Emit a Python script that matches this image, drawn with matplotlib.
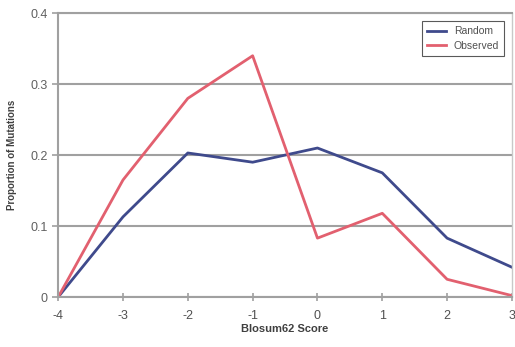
import matplotlib
matplotlib.use('Agg')
import matplotlib.pyplot as plt

# Данные
scores = [-4, -3, -2, -1, 0, 1, 2, 3]
random_vals = [0.0, 0.113, 0.203, 0.190, 0.210, 0.175, 0.083, 0.042]
observed_vals = [0.0, 0.165, 0.280, 0.340, 0.083, 0.118, 0.025, 0.002]
y_ticks = [0, 0.1, 0.2, 0.3, 0.4]
y_labels = ['0', '0.1', '0.2', '0.3', '0.4']

plt.rcParams['font.family'] = ['Liberation Sans', 'DejaVu Sans']
plt.rcParams['axes.unicode_minus'] = False

fig = plt.figure(figsize=(5.15, 3.47), dpi=100)
ax = fig.add_axes([0.113, 0.144, 0.881, 0.818])

ax.plot(scores, random_vals, color='#3f4a8c', lw=2.0, label='Random')
ax.plot(scores, observed_vals, color='#e2606f', lw=2.0, label='Observed')

ax.set_xlim(-4, 3)
ax.set_ylim(0, 0.4)
ax.set_xticks(scores)
ax.set_yticks(y_ticks)
ax.set_yticklabels(y_labels)
ax.grid(axis='y', color='#a0a0a0', lw=1.5)
ax.set_axisbelow(True)

for side in ['left', 'bottom']:
    ax.spines[side].set_color('#a0a0a0')
    ax.spines[side].set_linewidth(1.5)
ax.spines['top'].set_color('#a0a0a0')
ax.spines['top'].set_linewidth(1.5)
ax.spines['right'].set_color('#c8c8c8')
ax.spines['right'].set_linewidth(1.0)

ax.tick_params(axis='x', direction='inout', length=6, color='#a0a0a0', width=1.2,
               labelsize=9, labelcolor='#505050', pad=6)
ax.tick_params(axis='y', direction='out', length=4, color='#a0a0a0', width=1.2,
               labelsize=9, labelcolor='#606060')

ax.set_xlabel('Blosum62 Score', fontsize=8, fontweight='bold', color='#404040', labelpad=2)
ax.set_ylabel('Proportion of Mutations', fontsize=7, fontweight='bold', color='#404040', labelpad=10)

leg = ax.legend(loc='upper right', fontsize=7.5, frameon=True, fancybox=False,
                handlelength=1.8, borderpad=0.5, labelspacing=0.4,
                bbox_to_anchor=(0.995, 0.99))
leg.get_frame().set_edgecolor('#303030')
leg.get_frame().set_linewidth(0.8)
for t in leg.get_texts():
    t.set_color('#505050')

plt.savefig('out.png', dpi=100)
plt.close()
